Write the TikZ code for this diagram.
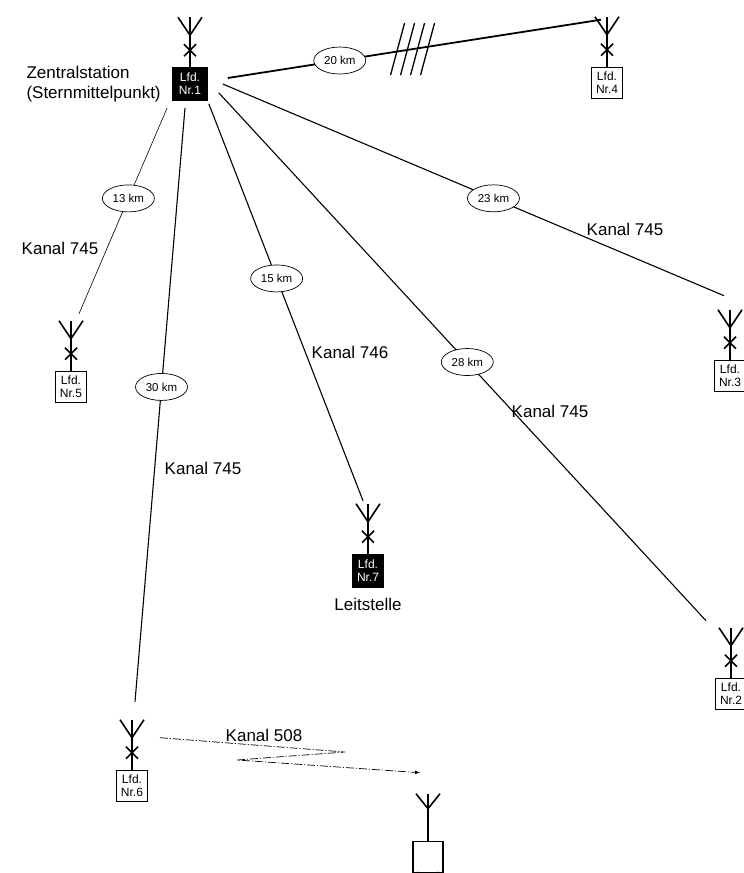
\documentclass[tikz,border=0pt]{standalone}
\usepackage{fontspec}
\setmainfont{Liberation Sans}
\usetikzlibrary{calc,shapes,arrows,positioning}

% Antenne ueber einer Station
\newcommand{\antenne}[2]{%
  \draw[ant] (#1.north) -- ++(0,-#2) coordinate (#1-top);
  \draw[ant] ($(#1.north)+(-12,-#2)$) -- ($(#1.north)+(0,-32)$) -- ($(#1.north)+(12,-#2)$);
}
\newcommand{\kreuz}[1]{%
  \draw[ant] ($(#1.north)+(-6,-11)$) -- ($(#1.north)+(6,-23)$)
             ($(#1.north)+(6,-11)$) -- ($(#1.north)+(-6,-23)$);
}

\begin{document}
\begin{tikzpicture}[x=1pt, y=-1pt,
				station/.style={rectangle, draw, line width=1.6pt, align=center, minimum width=31pt,
						minimum height=31pt, inner sep=1pt, font=\fontsize{12}{13}\selectfont},
				zentrale/.style={station, fill=black, text=white},
				entf/.style={ellipse, draw, fill=white, line width=0.7pt, minimum width=52pt,
						minimum height=27pt, inner sep=1pt, font=\fontsize{11.5}{13}\selectfont},
				kanal/.style={font=\fontsize{17}{20}\selectfont},
				line/.style={draw, line width=1.1pt},
				ant/.style={line width=1.6pt},
				funk/.style={draw, line width=0.7pt, dash pattern=on 8pt off 2pt on 1pt off 2pt, -latex}
			]
			\useasboundingbox (0,0) rectangle (744,873);

			\node [zentrale, minimum width=34pt, minimum height=32pt] (n1) at (190,84) {Lfd.\\ Nr.1};
			\node [station] (n2) at (731,694) {Lfd.\\ Nr.2};
			\node [station] (n3) at (730,376) {Lfd.\\ Nr.3};
			\node [station] (n4) at (607,83) {Lfd.\\ Nr.4};
			\node [station] (n5) at (71,387) {Lfd.\\ Nr.5};
			\node [station] (n6) at (132,786) {Lfd.\\ Nr.6};
			\node [zentrale, minimum height=33pt] (n7) at (368,571) {Lfd.\\ Nr.7};
			\node [station, minimum width=30pt] (mobil) at (428,857) {};

			\node [kanal, left=8pt of n1, align=left] (zentral) {Zentralstation\\ (Sternmittelpunkt)};
			\node [kanal, below=6pt of n7] (leit) {Leitstelle};

			\foreach \n in {n1,n2,n3,n4,n5,n6,n7} {
				\antenne{\n}{50}
				\kreuz{\n}
			}
			\antenne{mobil}{47}
			\fill (mobil.south west) ++(6,0) circle (1.8);
			\fill (mobil.south east) ++(-6,0) circle (1.8);

			\path [line, line width=1.8pt] ([shift={(20pt,6pt)}]n1.east) -- node [entf, pos=0.3] {20 km}
				coordinate [pos=0.495] (schraffur) ([shift={(-6pt,-3pt)}]n4-top);
			\foreach \d in {-15,-5,5,15}
				\draw [line width=1.3pt] ($(schraffur)+({\d-7},26)$) -- ($(schraffur)+({\d+7},-26)$);

			\path [line] ([xshift=15pt]n1.east) -- node [entf, pos=0.54] {23 km} ([shift={(-6pt,14pt)}]n3-top);
			\path [line] ([shift={(11pt,8pt)}]n1.south east) -- node [entf, pos=0.51] {28 km} ([shift={(-25pt,7pt)}]n2-top);
			\path [line] ([shift={(1pt,-3pt)}]n1.south east) -- node [entf, pos=0.44] {15 km} ([shift={(-5pt,3pt)}]n7-top);
			\path [line] ([shift={(-5pt,-7pt)}]n1.south) -- node [entf, pos=0.47] {30 km} ([shift={(3pt,18pt)}]n6-top);
			\path [line, line width=0.6pt] ([shift={(-5pt,-7pt)}]n1.south west) -- node [entf, pos=0.44] {13 km} ([shift={(8pt,7pt)}]n5-top);

			\node [kanal] (k3) at (625,229) {Kanal 745};
			\node [kanal] (k2) at (550,411) {Kanal 745};
			\node [kanal] (k7) at (350,352) {Kanal 746};
			\node [kanal] (k6) at (203,468) {Kanal 745};
			\node [kanal] (k5) at (60,248) {Kanal 745};
			\node [kanal] (k508) at (264,735) {Kanal 508};

			\coordinate (knick1) at (345,752);
			\coordinate (knick2) at (237,760);
			\path [funk] ([shift={(28pt,-18pt)}]n6-top) -- (knick1) -- (knick2) -- ([shift={(-8pt,21pt)}]mobil-top);
		\end{tikzpicture}
\end{document}
